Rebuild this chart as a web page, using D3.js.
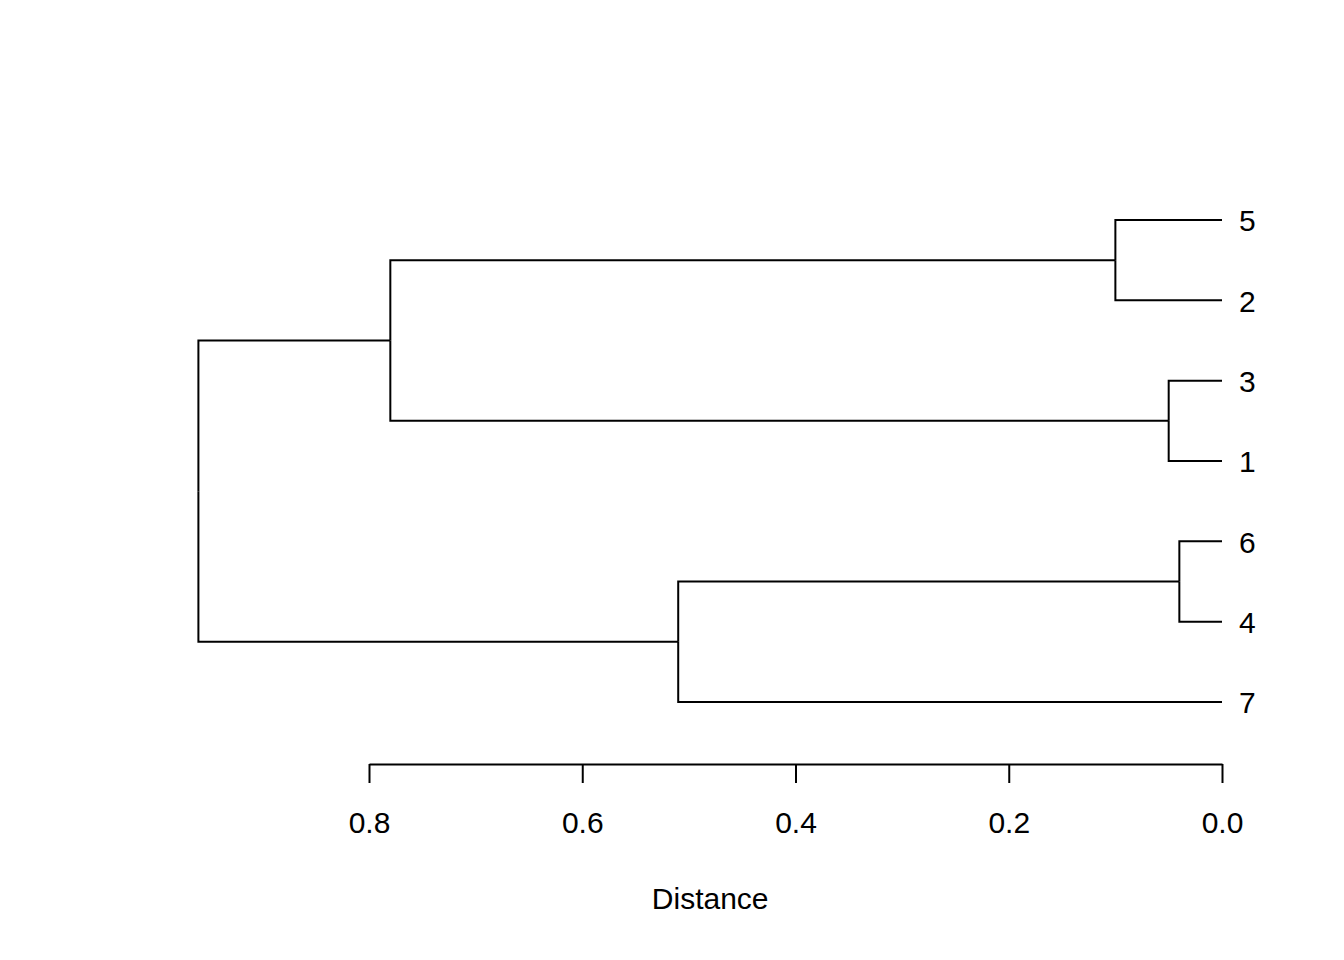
<!DOCTYPE html>
<html>
<head>
<meta charset="utf-8">
<script src="https://cdn.jsdelivr.net/npm/d3@7"></script>
<style>
  body { margin: 0; background: #fff; }
  svg text { font-family: "Liberation Sans", Arial, sans-serif; fill: #000; }
</style>
</head>
<body>
<div id="dendro"></div>
<script>
var svgWidth = 1344;
var svgHeight = 960;

// leaves, top to bottom
var leafOrder = ["5", "2", "3", "1", "6", "4", "7"];
// hclust-style merges: negative = leaf label, positive = earlier merge step
var merges = [[-6, -4], [-3, -1], [-5, -2], [1, -7], [3, 2], [5, 4]];
var heights = [0.04, 0.05, 0.10, 0.51, 0.78, 0.96];
var tickValues = [0, 0.2, 0.4, 0.6, 0.8];

var svg = d3.select("#dendro")
    .append("svg")
    .attr("width", svgWidth)
    .attr("height", svgHeight);

var xScale = d3.scaleLinear()
    .domain([0, 0.8])
    .range([1222, 369]);

var yScale = d3.scalePoint()
    .domain(leafOrder)
    .range([220, 702]);

// build the tree from the merge table
var steps = [];
merges.forEach(function(m, i) {
    var kids = m.map(function(k) {
        return k < 0 ? { name: String(-k), height: 0 } : steps[k - 1];
    });
    steps.push({ name: "m" + (i + 1), height: heights[i], children: kids });
});
var root = d3.hierarchy(steps[steps.length - 1]);

root.eachAfter(function(node) {
    node.px = xScale(node.data.height);
    if (node.children) {
        node.py = d3.mean(node.children, c => c.py);
    } else {
        node.py = yScale(node.data.name);
    }
});

var chartGroup = svg.append("g");

chartGroup.selectAll("path.link")
    .data(root.links())
    .enter()
    .append("path")
    .attr("class", "link")
    .attr("d", d => `M${d.source.px},${d.source.py}V${d.target.py}H${d.target.px}`)
    .attr("fill", "none")
    .attr("stroke", "#000")
    .attr("stroke-width", 2);

chartGroup.selectAll("text.leaf")
    .data(root.leaves())
    .enter()
    .append("text")
    .attr("class", "leaf")
    .attr("x", d => d.px + 17)
    .attr("y", d => d.py)
    .attr("dy", "0.38em")
    .attr("font-size", "30px")
    .text(d => d.data.name);

var bottomAxis = d3.axisBottom(xScale)
    .tickValues(tickValues)
    .tickFormat(d3.format(".1f"))
    .tickSizeInner(19)
    .tickSizeOuter(0)
    .tickPadding(29);

var axisG = chartGroup.append("g")
    .attr("transform", "translate(0, 764)")
    .call(bottomAxis);

axisG.select(".domain").attr("stroke", "#000").attr("stroke-width", 2);
axisG.selectAll(".tick line").attr("stroke", "#000").attr("stroke-width", 2);
axisG.selectAll(".tick text")
    .attr("font-size", "30px")
    .attr("font-family", "'Liberation Sans', Arial, sans-serif")
    .attr("fill", "#000");

// centred on the plot region (R pads the range by 4% each side)
chartGroup.append("text")
    .attr("x", xScale(heights[heights.length - 1] / 2))
    .attr("y", 909)
    .attr("text-anchor", "middle")
    .attr("font-size", "30px")
    .text("Distance");
</script>
</body>
</html>
